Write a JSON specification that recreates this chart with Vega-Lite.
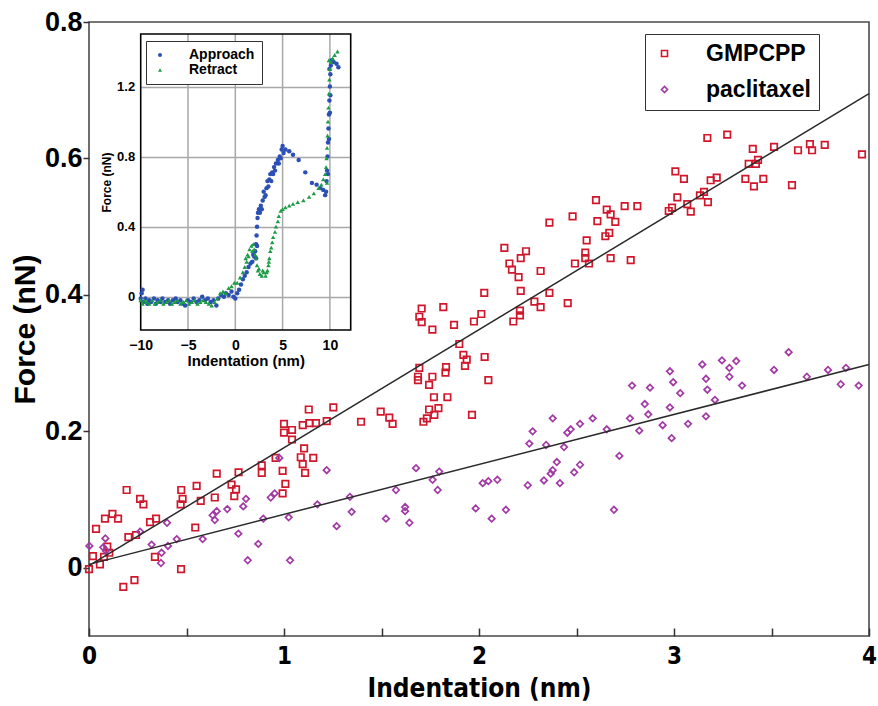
{
"$schema": "https://vega.github.io/schema/vega-lite/v6.json",
"width": 780, "height": 614,
"autosize": {"type": "none"},
"padding": {"left": 89, "top": 22, "right": 9, "bottom": 70},
"background": "white",
"config": {
  "view": {"stroke": "#4a4a4a", "strokeWidth": 1.6},
  "font": "Liberation Sans",
  "axis": {"labelFont": "Liberation Sans", "titleFont": "Liberation Sans", "labelColor": "black", "titleColor": "black"},
  "legend": {"labelFont": "Liberation Sans"}
},
"datasets": {
"main": [
{"series":"GMPCPP","x":0.00,"y":-0.002},{"series":"GMPCPP","x":0.02,"y":0.017},{"series":"GMPCPP","x":0.056,"y":0.005},{"series":"GMPCPP","x":0.036,"y":0.057},{"series":"GMPCPP","x":0.082,"y":0.072},{"series":"GMPCPP","x":0.12,"y":0.079},{"series":"GMPCPP","x":0.149,"y":0.072},{"series":"GMPCPP","x":0.077,"y":0.016},{"series":"GMPCPP","x":0.094,"y":0.031},{"series":"GMPCPP","x":0.104,"y":0.022},{"series":"GMPCPP","x":0.193,"y":0.114},{"series":"GMPCPP","x":0.262,"y":0.101},{"series":"GMPCPP","x":0.279,"y":0.093},{"series":"GMPCPP","x":0.202,"y":0.045},{"series":"GMPCPP","x":0.241,"y":0.048},{"series":"GMPCPP","x":0.176,"y":-0.028},{"series":"GMPCPP","x":0.233,"y":-0.018},{"series":"GMPCPP","x":0.313,"y":0.067},{"series":"GMPCPP","x":0.344,"y":0.072},{"series":"GMPCPP","x":0.338,"y":0.016},{"series":"GMPCPP","x":0.473,"y":0.114},{"series":"GMPCPP","x":0.48,"y":0.101},{"series":"GMPCPP","x":0.47,"y":0.093},{"series":"GMPCPP","x":0.552,"y":0.12},{"series":"GMPCPP","x":0.573,"y":0.098},{"series":"GMPCPP","x":0.545,"y":0.059},{"series":"GMPCPP","x":0.472,"y":-0.002},{"series":"GMPCPP","x":0.655,"y":0.138},{"series":"GMPCPP","x":0.645,"y":0.103},{"series":"GMPCPP","x":0.731,"y":0.122},{"series":"GMPCPP","x":0.754,"y":0.115},{"series":"GMPCPP","x":0.745,"y":0.105},{"series":"GMPCPP","x":0.767,"y":0.14},{"series":"GMPCPP","x":0.886,"y":0.150},{"series":"GMPCPP","x":0.886,"y":0.139},{"series":"GMPCPP","x":0.957,"y":0.161},{"series":"GMPCPP","x":1.0,"y":0.211},{"series":"GMPCPP","x":1.0,"y":0.198},{"series":"GMPCPP","x":1.041,"y":0.202},{"series":"GMPCPP","x":1.041,"y":0.188},{"series":"GMPCPP","x":1.096,"y":0.209},{"series":"GMPCPP","x":1.13,"y":0.212},{"series":"GMPCPP","x":1.164,"y":0.212},{"series":"GMPCPP","x":1.219,"y":0.215},{"series":"GMPCPP","x":0.993,"y":0.142},{"series":"GMPCPP","x":1.007,"y":0.123},{"series":"GMPCPP","x":0.993,"y":0.109},{"series":"GMPCPP","x":1.086,"y":0.162},{"series":"GMPCPP","x":1.103,"y":0.175},{"series":"GMPCPP","x":1.096,"y":0.152},{"series":"GMPCPP","x":1.108,"y":0.139},{"series":"GMPCPP","x":1.15,"y":0.161},{"series":"GMPCPP","x":1.127,"y":0.232},{"series":"GMPCPP","x":1.253,"y":0.235},{"series":"GMPCPP","x":1.395,"y":0.214},{"series":"GMPCPP","x":1.496,"y":0.229},{"series":"GMPCPP","x":1.54,"y":0.22},{"series":"GMPCPP","x":1.557,"y":0.211},{"series":"GMPCPP","x":1.687,"y":0.275},{"series":"GMPCPP","x":1.744,"y":0.268},{"series":"GMPCPP","x":1.769,"y":0.25},{"series":"GMPCPP","x":1.838,"y":0.25},{"series":"GMPCPP","x":1.744,"y":0.232},{"series":"GMPCPP","x":1.792,"y":0.234},{"series":"GMPCPP","x":1.771,"y":0.224},{"series":"GMPCPP","x":1.715,"y":0.214},{"series":"GMPCPP","x":1.733,"y":0.219},{"series":"GMPCPP","x":1.964,"y":0.224},{"series":"GMPCPP","x":2.048,"y":0.275},{"series":"GMPCPP","x":1.899,"y":0.328},{"series":"GMPCPP","x":1.92,"y":0.312},{"series":"GMPCPP","x":1.937,"y":0.305},{"series":"GMPCPP","x":1.928,"y":0.296},{"series":"GMPCPP","x":2.029,"y":0.309},{"series":"GMPCPP","x":1.694,"y":0.293},{"series":"GMPCPP","x":1.687,"y":0.28},{"series":"GMPCPP","x":1.761,"y":0.28},{"series":"GMPCPP","x":1.828,"y":0.286},{"series":"GMPCPP","x":1.831,"y":0.294},{"series":"GMPCPP","x":2.13,"y":0.469},{"series":"GMPCPP","x":2.241,"y":0.464},{"series":"GMPCPP","x":2.214,"y":0.454},{"series":"GMPCPP","x":2.156,"y":0.446},{"series":"GMPCPP","x":2.169,"y":0.437},{"series":"GMPCPP","x":2.203,"y":0.426},{"series":"GMPCPP","x":2.316,"y":0.435},{"series":"GMPCPP","x":2.214,"y":0.406},{"series":"GMPCPP","x":2.361,"y":0.403},{"series":"GMPCPP","x":2.284,"y":0.39},{"series":"GMPCPP","x":2.316,"y":0.382},{"series":"GMPCPP","x":2.455,"y":0.388},{"series":"GMPCPP","x":2.21,"y":0.377},{"series":"GMPCPP","x":2.21,"y":0.37},{"series":"GMPCPP","x":2.176,"y":0.361},{"series":"GMPCPP","x":2.027,"y":0.403},{"series":"GMPCPP","x":1.706,"y":0.38},{"series":"GMPCPP","x":1.817,"y":0.382},{"series":"GMPCPP","x":1.694,"y":0.368},{"series":"GMPCPP","x":1.706,"y":0.36},{"series":"GMPCPP","x":1.761,"y":0.349},{"series":"GMPCPP","x":1.872,"y":0.356},{"series":"GMPCPP","x":1.974,"y":0.361},{"series":"GMPCPP","x":2.012,"y":0.372},{"series":"GMPCPP","x":2.6,"y":0.539},{"series":"GMPCPP","x":2.655,"y":0.525},{"series":"GMPCPP","x":2.675,"y":0.518},{"series":"GMPCPP","x":2.699,"y":0.507},{"series":"GMPCPP","x":2.607,"y":0.508},{"series":"GMPCPP","x":2.668,"y":0.491},{"series":"GMPCPP","x":2.648,"y":0.486},{"series":"GMPCPP","x":2.48,"y":0.515},{"series":"GMPCPP","x":2.361,"y":0.506},{"series":"GMPCPP","x":2.552,"y":0.48},{"series":"GMPCPP","x":2.545,"y":0.462},{"series":"GMPCPP","x":2.545,"y":0.454},{"series":"GMPCPP","x":2.564,"y":0.446},{"series":"GMPCPP","x":2.492,"y":0.446},{"series":"GMPCPP","x":2.675,"y":0.454},{"series":"GMPCPP","x":2.747,"y":0.53},{"series":"GMPCPP","x":2.812,"y":0.53},{"series":"GMPCPP","x":2.778,"y":0.451},{"series":"GMPCPP","x":3.171,"y":0.63},{"series":"GMPCPP","x":3.273,"y":0.635},{"series":"GMPCPP","x":3.404,"y":0.614},{"series":"GMPCPP","x":3.513,"y":0.617},{"series":"GMPCPP","x":3.636,"y":0.612},{"series":"GMPCPP","x":3.697,"y":0.621},{"series":"GMPCPP","x":3.708,"y":0.612},{"series":"GMPCPP","x":3.773,"y":0.62},{"series":"GMPCPP","x":3.964,"y":0.606},{"series":"GMPCPP","x":3.383,"y":0.592},{"series":"GMPCPP","x":3.42,"y":0.592},{"series":"GMPCPP","x":3.431,"y":0.598},{"series":"GMPCPP","x":3.366,"y":0.57},{"series":"GMPCPP","x":3.41,"y":0.559},{"series":"GMPCPP","x":3.458,"y":0.57},{"series":"GMPCPP","x":3.605,"y":0.561},{"series":"GMPCPP","x":3.007,"y":0.581},{"series":"GMPCPP","x":3.051,"y":0.57},{"series":"GMPCPP","x":3.188,"y":0.568},{"series":"GMPCPP","x":3.219,"y":0.572},{"series":"GMPCPP","x":3.017,"y":0.543},{"series":"GMPCPP","x":2.973,"y":0.523},{"series":"GMPCPP","x":2.99,"y":0.528},{"series":"GMPCPP","x":3.068,"y":0.533},{"series":"GMPCPP","x":3.086,"y":0.522},{"series":"GMPCPP","x":3.133,"y":0.546},{"series":"GMPCPP","x":3.154,"y":0.551},{"series":"GMPCPP","x":3.174,"y":0.536},
{"series":"paclitaxel","x":0.002,"y":0.032},{"series":"paclitaxel","x":0.084,"y":0.043},{"series":"paclitaxel","x":0.073,"y":0.030},{"series":"paclitaxel","x":0.087,"y":0.025},{"series":"paclitaxel","x":0.262,"y":0.053},{"series":"paclitaxel","x":0.321,"y":0.034},{"series":"paclitaxel","x":0.372,"y":0.022},{"series":"paclitaxel","x":0.369,"y":0.007},{"series":"paclitaxel","x":0.40,"y":0.066},{"series":"paclitaxel","x":0.405,"y":0.032},{"series":"paclitaxel","x":0.45,"y":0.042},{"series":"paclitaxel","x":0.583,"y":0.042},{"series":"paclitaxel","x":0.634,"y":0.077},{"series":"paclitaxel","x":0.655,"y":0.083},{"series":"paclitaxel","x":0.645,"y":0.07},{"series":"paclitaxel","x":0.709,"y":0.086},{"series":"paclitaxel","x":0.766,"y":0.05},{"series":"paclitaxel","x":0.791,"y":0.09},{"series":"paclitaxel","x":0.805,"y":0.101},{"series":"paclitaxel","x":0.814,"y":0.011},{"series":"paclitaxel","x":0.868,"y":0.035},{"series":"paclitaxel","x":0.894,"y":0.072},{"series":"paclitaxel","x":0.932,"y":0.103},{"series":"paclitaxel","x":0.952,"y":0.109},{"series":"paclitaxel","x":0.976,"y":0.161},{"series":"paclitaxel","x":1.024,"y":0.074},{"series":"paclitaxel","x":1.031,"y":0.011},{"series":"paclitaxel","x":1.171,"y":0.093},{"series":"paclitaxel","x":1.219,"y":0.143},{"series":"paclitaxel","x":1.27,"y":0.061},{"series":"paclitaxel","x":1.338,"y":0.104},{"series":"paclitaxel","x":1.347,"y":0.082},{"series":"paclitaxel","x":1.523,"y":0.072},{"series":"paclitaxel","x":1.574,"y":0.114},{"series":"paclitaxel","x":1.621,"y":0.089},{"series":"paclitaxel","x":1.621,"y":0.083},{"series":"paclitaxel","x":1.643,"y":0.066},{"series":"paclitaxel","x":1.677,"y":0.146},{"series":"paclitaxel","x":1.762,"y":0.129},{"series":"paclitaxel","x":1.796,"y":0.141},{"series":"paclitaxel","x":1.788,"y":0.114},{"series":"paclitaxel","x":1.983,"y":0.087},{"series":"paclitaxel","x":2.019,"y":0.124},{"series":"paclitaxel","x":2.048,"y":0.127},{"series":"paclitaxel","x":2.094,"y":0.129},{"series":"paclitaxel","x":2.065,"y":0.072},{"series":"paclitaxel","x":2.138,"y":0.085},{"series":"paclitaxel","x":2.25,"y":0.121},{"series":"paclitaxel","x":2.258,"y":0.182},{"series":"paclitaxel","x":2.275,"y":0.2},{"series":"paclitaxel","x":2.333,"y":0.128},{"series":"paclitaxel","x":2.344,"y":0.18},{"series":"paclitaxel","x":2.378,"y":0.219},{"series":"paclitaxel","x":2.368,"y":0.138},{"series":"paclitaxel","x":2.378,"y":0.143},{"series":"paclitaxel","x":2.399,"y":0.155},{"series":"paclitaxel","x":2.415,"y":0.124},{"series":"paclitaxel","x":2.436,"y":0.177},{"series":"paclitaxel","x":2.453,"y":0.198},{"series":"paclitaxel","x":2.47,"y":0.203},{"series":"paclitaxel","x":2.488,"y":0.14},{"series":"paclitaxel","x":2.518,"y":0.151},{"series":"paclitaxel","x":2.518,"y":0.211},{"series":"paclitaxel","x":2.583,"y":0.219},{"series":"paclitaxel","x":2.655,"y":0.203},{"series":"paclitaxel","x":2.72,"y":0.164},{"series":"paclitaxel","x":2.692,"y":0.085},{"series":"paclitaxel","x":2.785,"y":0.267},{"series":"paclitaxel","x":2.774,"y":0.219},{"series":"paclitaxel","x":2.822,"y":0.201},{"series":"paclitaxel","x":2.85,"y":0.24},{"series":"paclitaxel","x":2.868,"y":0.225},{"series":"paclitaxel","x":2.877,"y":0.264},{"series":"paclitaxel","x":2.942,"y":0.209},{"series":"paclitaxel","x":2.979,"y":0.288},{"series":"paclitaxel","x":2.996,"y":0.272},{"series":"paclitaxel","x":2.979,"y":0.235},{"series":"paclitaxel","x":2.988,"y":0.19},{"series":"paclitaxel","x":3.032,"y":0.256},{"series":"paclitaxel","x":3.072,"y":0.211},{"series":"paclitaxel","x":3.145,"y":0.298},{"series":"paclitaxel","x":3.164,"y":0.277},{"series":"paclitaxel","x":3.171,"y":0.261},{"series":"paclitaxel","x":3.164,"y":0.222},{"series":"paclitaxel","x":3.21,"y":0.246},{"series":"paclitaxel","x":3.246,"y":0.304},{"series":"paclitaxel","x":3.284,"y":0.293},{"series":"paclitaxel","x":3.284,"y":0.28},{"series":"paclitaxel","x":3.319,"y":0.303},{"series":"paclitaxel","x":3.349,"y":0.267},{"series":"paclitaxel","x":3.513,"y":0.29},{"series":"paclitaxel","x":3.588,"y":0.316},{"series":"paclitaxel","x":3.681,"y":0.28},{"series":"paclitaxel","x":3.79,"y":0.29},{"series":"paclitaxel","x":3.855,"y":0.269},{"series":"paclitaxel","x":3.882,"y":0.293},{"series":"paclitaxel","x":3.947,"y":0.267}
],
"fits": [
{"series":"GMPCPP","x":0,"y":0.003},{"series":"GMPCPP","x":4,"y":0.695},
{"series":"paclitaxel","x":0,"y":0.005},{"series":"paclitaxel","x":4,"y":0.298}
],
"inset": [
{"curve":"Approach","x":-10,"y":-0.01},{"curve":"Approach","x":-9.9,"y":0.02},{"curve":"Approach","x":-9.8,"y":0.04},{"curve":"Approach","x":-9.7,"y":-0.03},{"curve":"Approach","x":-9.5,"y":-0.01},{"curve":"Approach","x":-9.3,"y":-0.04},{"curve":"Approach","x":-9.1,"y":-0.02},{"curve":"Approach","x":-8.9,"y":-0.03},{"curve":"Approach","x":-8.6,"y":-0.01},{"curve":"Approach","x":-8.4,"y":-0.04},{"curve":"Approach","x":-8.2,"y":-0.02},{"curve":"Approach","x":-7.9,"y":-0.03},{"curve":"Approach","x":-7.7,"y":-0.01},{"curve":"Approach","x":-7.4,"y":-0.03},{"curve":"Approach","x":-7.1,"y":-0.02},{"curve":"Approach","x":-6.9,"y":-0.04},{"curve":"Approach","x":-6.6,"y":-0.02},{"curve":"Approach","x":-6.3,"y":-0.01},{"curve":"Approach","x":-6.1,"y":-0.03},{"curve":"Approach","x":-5.8,"y":-0.02},{"curve":"Approach","x":-5.5,"y":-0.04},{"curve":"Approach","x":-5.3,"y":-0.05},{"curve":"Approach","x":-5.0,"y":-0.02},{"curve":"Approach","x":-4.7,"y":-0.03},{"curve":"Approach","x":-4.4,"y":-0.01},{"curve":"Approach","x":-4.1,"y":-0.03},{"curve":"Approach","x":-3.8,"y":-0.02},{"curve":"Approach","x":-3.5,"y":0.0},{"curve":"Approach","x":-3.2,"y":-0.02},{"curve":"Approach","x":-2.9,"y":-0.01},{"curve":"Approach","x":-2.6,"y":-0.03},{"curve":"Approach","x":-2.3,"y":-0.02},{"curve":"Approach","x":-2.0,"y":-0.05},{"curve":"Approach","x":-1.8,"y":-0.01},{"curve":"Approach","x":-1.5,"y":0.01},{"curve":"Approach","x":-1.2,"y":0.0},{"curve":"Approach","x":-1.0,"y":0.02},{"curve":"Approach","x":-0.7,"y":0.01},{"curve":"Approach","x":-0.4,"y":0.03},{"curve":"Approach","x":-0.2,"y":0.0},{"curve":"Approach","x":0.0,"y":-0.01},{"curve":"Approach","x":0.2,"y":0.02},{"curve":"Approach","x":0.4,"y":0.04},{"curve":"Approach","x":0.6,"y":0.07},{"curve":"Approach","x":0.8,"y":0.1},{"curve":"Approach","x":1.0,"y":0.12},{"curve":"Approach","x":1.2,"y":0.14},{"curve":"Approach","x":1.4,"y":0.17},{"curve":"Approach","x":1.6,"y":0.19},{"curve":"Approach","x":1.8,"y":0.2},{"curve":"Approach","x":1.9,"y":0.24},{"curve":"Approach","x":2.0,"y":0.23},{"curve":"Approach","x":2.1,"y":0.26},{"curve":"Approach","x":2.2,"y":0.3},{"curve":"Approach","x":2.2,"y":0.22},{"curve":"Approach","x":2.25,"y":0.35},{"curve":"Approach","x":2.3,"y":0.4},{"curve":"Approach","x":2.3,"y":0.29},{"curve":"Approach","x":2.35,"y":0.45},{"curve":"Approach","x":2.4,"y":0.48},{"curve":"Approach","x":2.5,"y":0.5},{"curve":"Approach","x":2.6,"y":0.48},{"curve":"Approach","x":2.7,"y":0.52},{"curve":"Approach","x":2.8,"y":0.5},{"curve":"Approach","x":2.9,"y":0.55},{"curve":"Approach","x":3.0,"y":0.6},{"curve":"Approach","x":3.1,"y":0.57},{"curve":"Approach","x":3.2,"y":0.58},{"curve":"Approach","x":3.3,"y":0.62},{"curve":"Approach","x":3.4,"y":0.66},{"curve":"Approach","x":3.5,"y":0.63},{"curve":"Approach","x":3.6,"y":0.67},{"curve":"Approach","x":3.7,"y":0.7},{"curve":"Approach","x":3.8,"y":0.66},{"curve":"Approach","x":3.9,"y":0.71},{"curve":"Approach","x":4.0,"y":0.7},{"curve":"Approach","x":4.1,"y":0.74},{"curve":"Approach","x":4.2,"y":0.72},{"curve":"Approach","x":4.3,"y":0.76},{"curve":"Approach","x":4.5,"y":0.78},{"curve":"Approach","x":4.6,"y":0.76},{"curve":"Approach","x":4.7,"y":0.8},{"curve":"Approach","x":4.8,"y":0.79},{"curve":"Approach","x":4.9,"y":0.84},{"curve":"Approach","x":5.0,"y":0.86},{"curve":"Approach","x":5.1,"y":0.82},{"curve":"Approach","x":5.3,"y":0.84},{"curve":"Approach","x":5.7,"y":0.83},{"curve":"Approach","x":6.1,"y":0.81},{"curve":"Approach","x":6.7,"y":0.78},{"curve":"Approach","x":7.4,"y":0.71},{"curve":"Approach","x":8.1,"y":0.65},{"curve":"Approach","x":8.6,"y":0.64},{"curve":"Approach","x":9.0,"y":0.62},{"curve":"Approach","x":9.3,"y":0.61},{"curve":"Approach","x":9.5,"y":0.58},{"curve":"Approach","x":9.6,"y":0.6},{"curve":"Approach","x":9.65,"y":0.66},{"curve":"Approach","x":9.7,"y":0.72},{"curve":"Approach","x":9.8,"y":0.7},{"curve":"Approach","x":9.75,"y":0.8},{"curve":"Approach","x":9.8,"y":0.88},{"curve":"Approach","x":9.9,"y":0.9},{"curve":"Approach","x":9.85,"y":0.96},{"curve":"Approach","x":9.9,"y":1.04},{"curve":"Approach","x":10.0,"y":1.05},{"curve":"Approach","x":9.95,"y":1.12},{"curve":"Approach","x":10.05,"y":1.15},{"curve":"Approach","x":10.0,"y":1.2},{"curve":"Approach","x":10.05,"y":1.27},{"curve":"Approach","x":9.95,"y":1.3},{"curve":"Approach","x":10.1,"y":1.32},{"curve":"Approach","x":10.2,"y":1.35},{"curve":"Approach","x":10.4,"y":1.34},{"curve":"Approach","x":10.7,"y":1.33},{"curve":"Approach","x":10.9,"y":1.31},
{"curve":"Retract","x":-10,"y":-0.02},{"curve":"Retract","x":-9.8,"y":-0.04},{"curve":"Retract","x":-9.6,"y":-0.02},{"curve":"Retract","x":-9.4,"y":-0.03},{"curve":"Retract","x":-9.1,"y":-0.04},{"curve":"Retract","x":-8.8,"y":-0.02},{"curve":"Retract","x":-8.5,"y":-0.04},{"curve":"Retract","x":-8.2,"y":-0.03},{"curve":"Retract","x":-7.9,"y":-0.02},{"curve":"Retract","x":-7.6,"y":-0.04},{"curve":"Retract","x":-7.3,"y":-0.03},{"curve":"Retract","x":-7.0,"y":-0.02},{"curve":"Retract","x":-6.7,"y":-0.04},{"curve":"Retract","x":-6.4,"y":-0.03},{"curve":"Retract","x":-6.1,"y":-0.02},{"curve":"Retract","x":-5.8,"y":-0.04},{"curve":"Retract","x":-5.5,"y":-0.03},{"curve":"Retract","x":-5.2,"y":-0.02},{"curve":"Retract","x":-4.9,"y":-0.04},{"curve":"Retract","x":-4.6,"y":-0.03},{"curve":"Retract","x":-4.3,"y":-0.02},{"curve":"Retract","x":-4.0,"y":-0.04},{"curve":"Retract","x":-3.7,"y":-0.03},{"curve":"Retract","x":-3.4,"y":-0.02},{"curve":"Retract","x":-3.1,"y":-0.03},{"curve":"Retract","x":-2.8,"y":-0.04},{"curve":"Retract","x":-2.5,"y":-0.05},{"curve":"Retract","x":-2.2,"y":-0.03},{"curve":"Retract","x":-1.9,"y":-0.01},{"curve":"Retract","x":-1.6,"y":0.02},{"curve":"Retract","x":-1.3,"y":0.03},{"curve":"Retract","x":-1.0,"y":0.02},{"curve":"Retract","x":-0.7,"y":0.05},{"curve":"Retract","x":-0.4,"y":0.06},{"curve":"Retract","x":-0.1,"y":0.08},{"curve":"Retract","x":0.2,"y":0.08},{"curve":"Retract","x":0.5,"y":0.11},{"curve":"Retract","x":0.8,"y":0.14},{"curve":"Retract","x":1.0,"y":0.17},{"curve":"Retract","x":1.1,"y":0.22},{"curve":"Retract","x":1.2,"y":0.2},{"curve":"Retract","x":1.3,"y":0.24},{"curve":"Retract","x":1.4,"y":0.23},{"curve":"Retract","x":1.5,"y":0.27},{"curve":"Retract","x":1.7,"y":0.29},{"curve":"Retract","x":1.8,"y":0.26},{"curve":"Retract","x":1.9,"y":0.3},{"curve":"Retract","x":2.0,"y":0.27},{"curve":"Retract","x":2.1,"y":0.24},{"curve":"Retract","x":2.2,"y":0.22},{"curve":"Retract","x":2.3,"y":0.18},{"curve":"Retract","x":2.4,"y":0.15},{"curve":"Retract","x":2.5,"y":0.16},{"curve":"Retract","x":2.6,"y":0.13},{"curve":"Retract","x":2.8,"y":0.12},{"curve":"Retract","x":2.9,"y":0.15},{"curve":"Retract","x":3.0,"y":0.14},{"curve":"Retract","x":3.2,"y":0.12},{"curve":"Retract","x":3.3,"y":0.14},{"curve":"Retract","x":3.4,"y":0.15},{"curve":"Retract","x":3.5,"y":0.18},{"curve":"Retract","x":3.55,"y":0.2},{"curve":"Retract","x":3.6,"y":0.22},{"curve":"Retract","x":3.7,"y":0.26},{"curve":"Retract","x":3.8,"y":0.28},{"curve":"Retract","x":3.9,"y":0.31},{"curve":"Retract","x":4.0,"y":0.34},{"curve":"Retract","x":4.2,"y":0.37},{"curve":"Retract","x":4.3,"y":0.4},{"curve":"Retract","x":4.5,"y":0.43},{"curve":"Retract","x":4.6,"y":0.46},{"curve":"Retract","x":4.8,"y":0.49},{"curve":"Retract","x":5.0,"y":0.5},{"curve":"Retract","x":5.3,"y":0.51},{"curve":"Retract","x":5.7,"y":0.52},{"curve":"Retract","x":6.1,"y":0.53},{"curve":"Retract","x":6.6,"y":0.54},{"curve":"Retract","x":7.2,"y":0.55},{"curve":"Retract","x":7.8,"y":0.57},{"curve":"Retract","x":8.3,"y":0.59},{"curve":"Retract","x":8.8,"y":0.62},{"curve":"Retract","x":9.1,"y":0.64},{"curve":"Retract","x":9.3,"y":0.67},{"curve":"Retract","x":9.5,"y":0.7},{"curve":"Retract","x":9.7,"y":0.65},{"curve":"Retract","x":9.6,"y":0.74},{"curve":"Retract","x":9.65,"y":0.79},{"curve":"Retract","x":9.7,"y":0.85},{"curve":"Retract","x":9.75,"y":0.92},{"curve":"Retract","x":9.8,"y":1.0},{"curve":"Retract","x":9.85,"y":1.08},{"curve":"Retract","x":9.9,"y":1.16},{"curve":"Retract","x":9.95,"y":1.24},{"curve":"Retract","x":10.0,"y":1.3},{"curve":"Retract","x":9.9,"y":1.35},{"curve":"Retract","x":10.1,"y":1.34},{"curve":"Retract","x":10.3,"y":1.36},{"curve":"Retract","x":10.5,"y":1.38},{"curve":"Retract","x":10.8,"y":1.4}
]
},
"layer": [
  {"data": {"name": "main"},
   "mark": {"type": "point", "filled": false, "strokeWidth": 1.7, "size": 42, "opacity": 1},
   "encoding": {
    "x": {"field": "x", "type": "quantitative", "scale": {"domain": [0, 4], "nice": false, "zero": false},
      "axis": {"orient": "bottom", "values": [0, 0.5, 1, 1.5, 2, 2.5, 3, 3.5, 4], "labelExpr": "datum.value % 1 === 0 ? format(datum.value, 'd') : ''", "tickSize": -8, "tickColor": "#333", "tickWidth": 1.5, "domain": false, "grid": false, "labelFont": "'DejaVu Sans Condensed', 'Liberation Sans', sans-serif", "labelFontSize": 24, "labelFontWeight": "bold", "labelPadding": 16, "labelFlush": false, "labelOverlap": false, "title": "Indentation (nm)", "titleFont": "'DejaVu Sans Condensed', 'Liberation Sans', sans-serif", "titleFontSize": 26, "titleFontWeight": "bold", "titlePadding": 7}},
    "y": {"field": "y", "type": "quantitative", "scale": {"domain": [-0.1, 0.8], "nice": false, "zero": false},
      "axis": {"orient": "left", "values": [0, 0.2, 0.4, 0.6, 0.8], "labelExpr": "datum.value === 0 ? '0' : format(datum.value, '.1f')", "tickSize": 6, "tickColor": "#333", "tickWidth": 1.5, "domain": false, "grid": false, "labelFontSize": 27, "labelFontWeight": "bold", "labelPadding": 1, "labelFlush": false, "labelOverlap": false, "title": "Force (nN)", "titleFontSize": 30, "titleFontWeight": "bold", "titlePadding": 4}},
    "color": {"field": "series", "type": "nominal", "scale": {"domain": ["GMPCPP", "paclitaxel"], "range": ["#d0182c", "#a23aa5"]},
      "legend": {"title": null, "orient": "none", "legendX": 556, "legendY": 12, "strokeColor": "#333", "fillColor": "white", "padding": 8, "labelFontSize": 23, "labelFontWeight": "bold", "labelColor": "black", "symbolSize": 36, "symbolStrokeWidth": 1.6, "labelOffset": 30, "rowPadding": 12}},
    "shape": {"field": "series", "type": "nominal", "scale": {"domain": ["GMPCPP", "paclitaxel"], "range": ["square", "diamond"]},
      "legend": {"title": null, "orient": "none", "legendX": 556, "legendY": 12, "strokeColor": "#333", "fillColor": "white", "padding": 8, "labelFontSize": 23, "labelFontWeight": "bold", "labelColor": "black", "symbolSize": 36, "symbolStrokeWidth": 1.6, "labelOffset": 30, "rowPadding": 12}}
   }},
  {"data": {"name": "fits"},
   "mark": {"type": "line", "color": "#2a2a2a", "strokeWidth": 1.5},
   "encoding": {"x": {"field": "x", "type": "quantitative", "scale": {"domain": [0, 4], "nice": false, "zero": false}, "axis": null}, "y": {"field": "y", "type": "quantitative", "scale": {"domain": [-0.1, 0.8], "nice": false, "zero": false}, "axis": null}, "detail": {"field": "series", "type": "nominal"}}},
  {"data": {"values": [{}]},
   "mark": {"type": "rule", "color": "#a8a8a8", "strokeWidth": 1.5},
   "encoding": {
    "x": {"datum": -5, "type": "quantitative", "scale": {"domain": [-10, 12.2], "range": [51.7, 261.7], "nice": false, "zero": false}, "axis": null},
    "y": {"datum": -0.19, "type": "quantitative", "scale": {"domain": [-0.19, 1.5], "range": [308, 12], "nice": false, "zero": false}, "axis": null},
    "y2": {"datum": 1.5}
   }},
  {"data": {"values": [{}]},
   "mark": {"type": "rule", "color": "#a8a8a8", "strokeWidth": 1.5},
   "encoding": {
    "x": {"datum": 0, "type": "quantitative", "scale": {"domain": [-10, 12.2], "range": [51.7, 261.7], "nice": false, "zero": false}, "axis": null},
    "y": {"datum": -0.19, "type": "quantitative", "scale": {"domain": [-0.19, 1.5], "range": [308, 12], "nice": false, "zero": false}, "axis": null},
    "y2": {"datum": 1.5}
   }},
  {"data": {"values": [{}]},
   "mark": {"type": "rule", "color": "#a8a8a8", "strokeWidth": 1.5},
   "encoding": {
    "x": {"datum": 5, "type": "quantitative", "scale": {"domain": [-10, 12.2], "range": [51.7, 261.7], "nice": false, "zero": false}, "axis": null},
    "y": {"datum": -0.19, "type": "quantitative", "scale": {"domain": [-0.19, 1.5], "range": [308, 12], "nice": false, "zero": false}, "axis": null},
    "y2": {"datum": 1.5}
   }},
  {"data": {"values": [{}]},
   "mark": {"type": "rule", "color": "#a8a8a8", "strokeWidth": 1.5},
   "encoding": {
    "x": {"datum": 10, "type": "quantitative", "scale": {"domain": [-10, 12.2], "range": [51.7, 261.7], "nice": false, "zero": false}, "axis": null},
    "y": {"datum": -0.19, "type": "quantitative", "scale": {"domain": [-0.19, 1.5], "range": [308, 12], "nice": false, "zero": false}, "axis": null},
    "y2": {"datum": 1.5}
   }},
  {"data": {"values": [{}]},
   "mark": {"type": "rect", "filled": false, "stroke": "black", "strokeWidth": 1.6},
   "encoding": {
    "x": {"datum": -10, "type": "quantitative", "scale": {"domain": [-10, 12.2], "range": [51.7, 261.7], "nice": false, "zero": false}, "axis": null},
    "x2": {"datum": 12.2},
    "y": {"datum": -0.19, "type": "quantitative", "scale": {"domain": [-0.19, 1.5], "range": [308, 12], "nice": false, "zero": false}, "axis": null},
    "y2": {"datum": 1.5}
   }},
  {"data": {"name": "inset"},
   "mark": {"type": "point", "filled": true, "size": 20, "opacity": 1},
   "encoding": {
    "x": {"field": "x", "type": "quantitative", "scale": {"domain": [-10, 12.2], "range": [51.7, 261.7], "nice": false, "zero": false},
      "axis": {"orient": "bottom", "offset": -306, "values": [-10, -5, 0, 5, 10], "grid": false, "ticks": false, "domain": false, "labelFontSize": 14, "labelFontWeight": "bold", "labelPadding": 8, "labelFlush": false, "labelOverlap": false, "title": "Indentation (nm)", "titleFontSize": 15, "titleFontWeight": "bold", "titlePadding": 1}},
    "y": {"field": "y", "type": "quantitative", "scale": {"domain": [-0.19, 1.5], "range": [308, 12], "nice": false, "zero": false},
      "axis": {"orient": "left", "offset": -51.7, "values": [0, 0.4, 0.8, 1.2], "labelExpr": "datum.value === 0 ? '0' : format(datum.value, '.1f')", "grid": true, "gridColor": "#a8a8a8", "gridWidth": 1.5, "ticks": false, "domain": false, "labelFontSize": 13, "labelFontWeight": "bold", "labelPadding": 6, "labelFlush": false, "labelOverlap": false, "title": "Force (nN)", "titleFontSize": 12, "titleFontWeight": "bold", "titlePadding": 3}},
    "color": {"field": "curve", "type": "nominal", "scale": {"domain": ["Approach", "Retract"], "range": ["#2b4fb5", "#1b9b45"]},
      "legend": {"title": null, "orient": "none", "legendX": 57, "legendY": 19, "strokeColor": "#333", "fillColor": "white", "padding": 7, "labelFontSize": 14, "labelFontWeight": "bold", "labelColor": "black", "symbolSize": 16, "labelOffset": 22, "rowPadding": 1}},
    "shape": {"field": "curve", "type": "nominal", "scale": {"domain": ["Approach", "Retract"], "range": ["circle", "triangle-up"]},
      "legend": {"title": null, "orient": "none", "legendX": 57, "legendY": 19, "strokeColor": "#333", "fillColor": "white", "padding": 7, "labelFontSize": 14, "labelFontWeight": "bold", "labelColor": "black", "symbolSize": 16, "labelOffset": 22, "rowPadding": 1}}
   }}
],
"resolve": {"scale": {"x": "independent", "y": "independent", "color": "independent", "shape": "independent"}, "axis": {"x": "independent", "y": "independent"}, "legend": {"color": "independent", "shape": "independent"}}
}
